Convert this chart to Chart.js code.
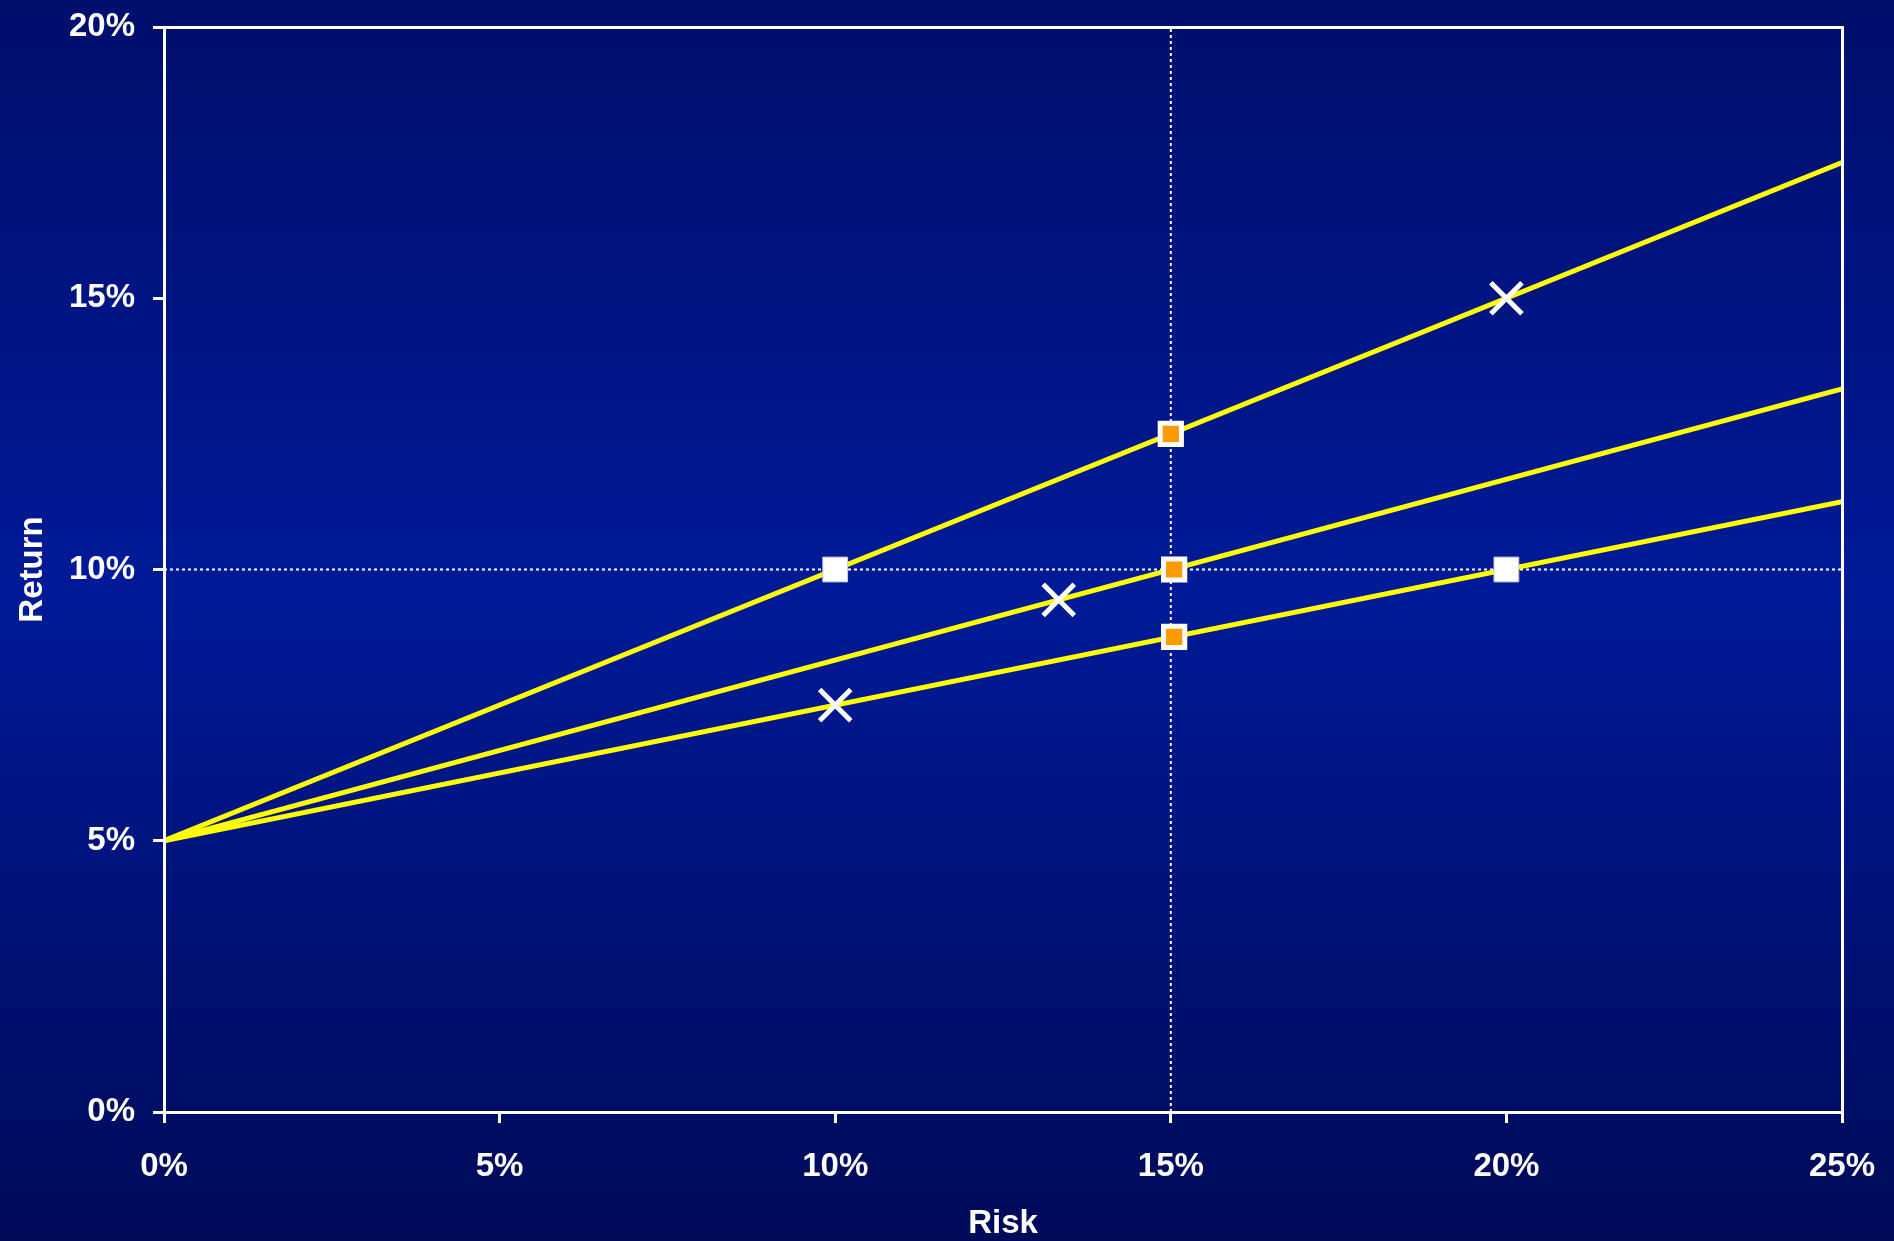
<!DOCTYPE html>
<html>
<head>
<meta charset="utf-8">
<title>Risk and Return</title>
<script src="https://cdn.jsdelivr.net/npm/chart.js@4/dist/chart.umd.min.js"></script>
<style>
  html, body { margin: 0; padding: 0; overflow: hidden; background: #001a96; }
  #wrap { width: 1894px; height: 1241px; }
</style>
</head>
<body>
<div id="wrap"><canvas id="chart" width="1894" height="1241"></canvas></div>
<script>
// Axis tick labels (percent)
const xTickLabels = ['0%', '5%', '10%', '15%', '20%', '25%'];
const yTickLabels = ['0%', '5%', '10%', '15%', '20%'];

// Capital allocation lines from the risk-free rate, [risk %, return %]
const lineSteep  = [[0, 5], [25, 17.5]];
const lineMiddle = [[0, 5], [25, 13.33]];
const lineFlat   = [[0, 5], [25, 11.25]];

// Reference levels: 10% return and 15% risk
const refReturn = [[0, 10], [25, 10]];
const refRisk   = [[15, 0], [15, 20]];

// Marked portfolios
const crossPoints   = [[10, 7.5], [13.33, 9.44], [20, 15]];
const whiteSquares  = [[10, 10], [20, 10]];
const orangeSquares = [[15, 12.5], [15.05, 10], [15.05, 8.76]];

const toXY = arr => arr.map(([x, y]) => ({ x, y }));

const FONT = { family: "'Liberation Sans', Arial, sans-serif", size: 33, weight: 'bold' };

const backdrop = {
  id: 'backdrop',
  beforeDraw(chart) {
    const { ctx, width, height } = chart;
    const g = ctx.createLinearGradient(0, 0, 0, height);
    g.addColorStop(0, '#000e6c');
    g.addColorStop(0.48, '#001a98');
    g.addColorStop(1, '#000a58');
    ctx.save();
    ctx.fillStyle = g;
    ctx.fillRect(0, 0, width, height);
    ctx.restore();
  }
};

const frame = {
  id: 'frame',
  afterDatasetsDraw(chart) {
    const { ctx, chartArea: a } = chart;
    const al = v => Math.round(v - 1.5) + 1.5;
    ctx.save();
    ctx.strokeStyle = '#ffffff';
    ctx.lineWidth = 3;
    ctx.strokeRect(al(a.left), al(a.top), al(a.right) - al(a.left), al(a.bottom) - al(a.top));
    ctx.restore();
  }
};

const lineStyle = {
  borderColor: '#ffff00',
  borderWidth: 5,
  pointRadius: 0,
  showLine: true,
  fill: false,
  tension: 0
};

const dotted = {
  showLine: true,
  borderColor: '#ffffff',
  borderWidth: 2,
  borderDash: [3, 3],
  pointRadius: 0
};

new Chart(document.getElementById('chart'), {
  type: 'scatter',
  data: {
    datasets: [
      {
        label: 'Portfolios',
        data: toXY(crossPoints),
        pointStyle: 'crossRot',
        pointRadius: 22,
        borderWidth: 5,
        borderColor: '#ffffff',
        backgroundColor: '#ffffff'
      },
      {
        label: 'Target',
        data: toXY(orangeSquares),
        pointStyle: 'rect',
        pointRadius: 15,
        borderWidth: 5,
        borderColor: '#ffffff',
        backgroundColor: '#ff9900'
      },
      {
        label: 'Benchmarks',
        data: toXY(whiteSquares),
        pointStyle: 'rect',
        pointRadius: 17.5,
        borderWidth: 1,
        borderColor: '#c9cde8',
        backgroundColor: '#ffffff'
      },
      Object.assign({ label: 'CAL A', data: toXY(lineSteep) }, lineStyle),
      Object.assign({ label: 'CAL B', data: toXY(lineMiddle) }, lineStyle),
      Object.assign({ label: 'CAL C', data: toXY(lineFlat) }, lineStyle),
      Object.assign({ label: '10% return', data: toXY(refReturn) }, dotted),
      Object.assign({ label: '15% risk', data: toXY(refRisk) }, dotted)
    ]
  },
  options: {
    responsive: false,
    devicePixelRatio: 1,
    animation: false,
    layout: { padding: { top: 24, right: 52, bottom: 0, left: 0 } },
    plugins: {
      legend: { display: false },
      tooltip: { enabled: false }
    },
    scales: {
      x: {
        type: 'linear',
        min: 0,
        max: 25,
        afterFit: s => { s.height = 129; s.paddingLeft = 0; s.paddingRight = 0; },
        ticks: {
          stepSize: 5,
          color: '#ffffff',
          font: FONT,
          padding: 24,
          maxRotation: 0,
          callback: v => xTickLabels[Math.round(v / 5)]
        },
        grid: {
          display: true,
          drawOnChartArea: false,
          drawTicks: true,
          tickLength: 11,
          color: '#ffffff',
          lineWidth: 3
        },
        border: { display: true, color: '#ffffff', width: 3 },
        title: {
          display: true,
          text: 'Risk',
          color: '#ffffff',
          font: FONT,
          padding: { top: 0, bottom: -3 }
        }
      },
      y: {
        type: 'linear',
        min: 0,
        max: 20,
        afterFit: s => { s.width = 164; s.paddingTop = 0; s.paddingBottom = 0; },
        ticks: {
          stepSize: 5,
          color: '#ffffff',
          font: FONT,
          padding: 18,
          callback: v => yTickLabels[Math.round(v / 5)]
        },
        grid: {
          display: true,
          drawOnChartArea: false,
          drawTicks: true,
          tickLength: 11,
          color: '#ffffff',
          lineWidth: 3
        },
        border: { display: true, color: '#ffffff', width: 3 },
        title: {
          display: true,
          text: 'Return',
          color: '#ffffff',
          font: FONT,
          padding: { top: 13, bottom: 0 }
        }
      }
    }
  },
  plugins: [backdrop, frame]
});
</script>
</body>
</html>
